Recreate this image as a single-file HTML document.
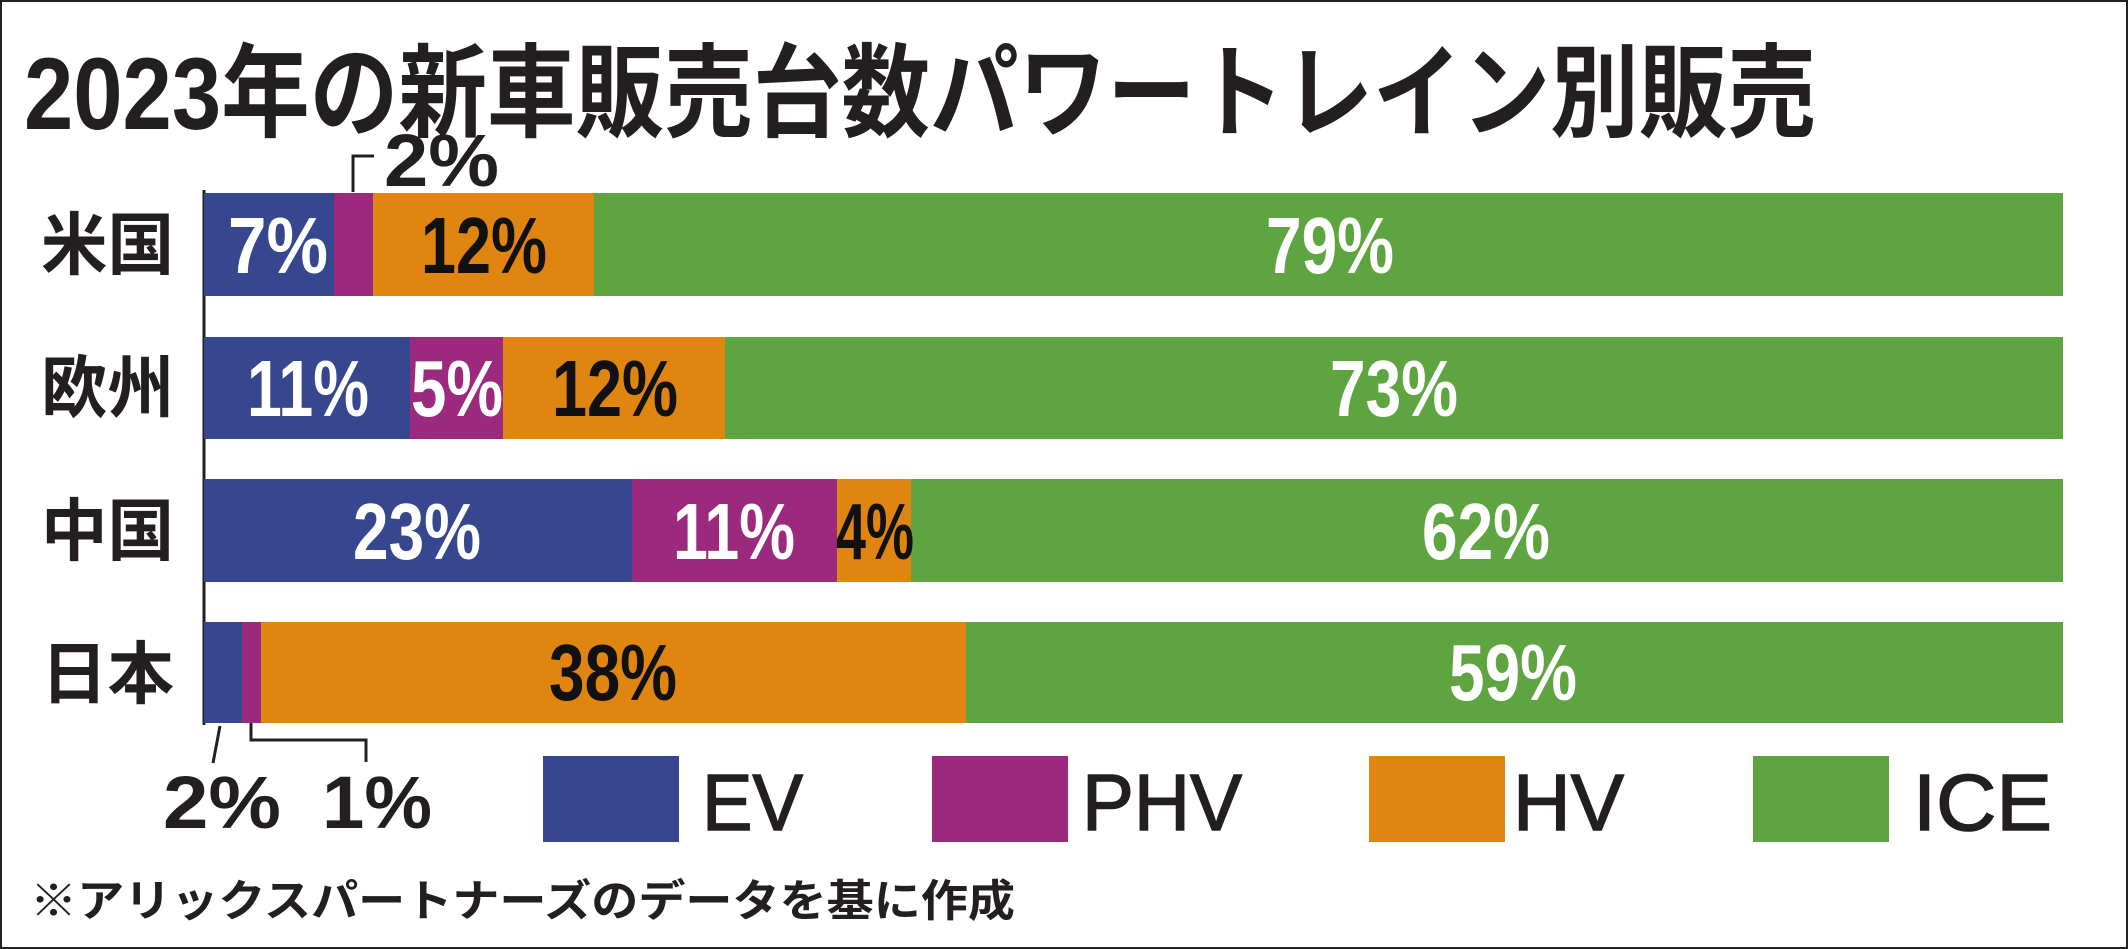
<!DOCTYPE html>
<html><head><meta charset="utf-8"><style>
html,body{margin:0;padding:0;background:#fff;}
svg{display:block;}
text{font-family:"Liberation Sans","Noto Sans CJK JP",sans-serif;}
</style></head><body>
<svg width="2128" height="949" viewBox="0 0 2128 949" xmlns="http://www.w3.org/2000/svg">
<rect x="1" y="1" width="2126" height="947" fill="#fff" stroke="#222" stroke-width="2"/>
<text x="24" y="129" font-size="102" font-weight="bold" fill="#231f20" textLength="1792" lengthAdjust="spacingAndGlyphs">2023年の新車販売台数パワートレイン別販売</text>
<line x1="204" y1="190" x2="204" y2="725" stroke="#231f20" stroke-width="3"/>
<g font-size="68" font-weight="bold" fill="#231f20">
<text x="41" y="269" textLength="133" lengthAdjust="spacingAndGlyphs">米国</text>
<text x="41" y="412" textLength="133" lengthAdjust="spacingAndGlyphs">欧州</text>
<text x="41" y="555" textLength="133" lengthAdjust="spacingAndGlyphs">中国</text>
<text x="41" y="698" textLength="133" lengthAdjust="spacingAndGlyphs">日本</text>
</g>
<rect x="204" y="193" width="130" height="103" fill="#36478f"/>
<rect x="334" y="193" width="39" height="103" fill="#9b2a7e"/>
<rect x="373" y="193" width="221" height="103" fill="#e0850f"/>
<rect x="594" y="193" width="1469" height="103" fill="#5ea541"/>
<rect x="204" y="337" width="206" height="102" fill="#36478f"/>
<rect x="410" y="337" width="93" height="102" fill="#9b2a7e"/>
<rect x="503" y="337" width="222" height="102" fill="#e0850f"/>
<rect x="725" y="337" width="1338" height="102" fill="#5ea541"/>
<rect x="204" y="479" width="428" height="103" fill="#36478f"/>
<rect x="632" y="479" width="205" height="103" fill="#9b2a7e"/>
<rect x="837" y="479" width="74" height="103" fill="#e0850f"/>
<rect x="911" y="479" width="1152" height="103" fill="#5ea541"/>
<rect x="204" y="622" width="38" height="101" fill="#36478f"/>
<rect x="242" y="622" width="19" height="101" fill="#9b2a7e"/>
<rect x="261" y="622" width="705" height="101" fill="#e0850f"/>
<rect x="966" y="622" width="1097" height="101" fill="#5ea541"/>
<g font-size="80" font-weight="bold" text-anchor="middle">
<text x="278" y="273" fill="#fff" textLength="100" lengthAdjust="spacingAndGlyphs">7%</text>
<text x="484" y="273" fill="#111" textLength="126" lengthAdjust="spacingAndGlyphs">12%</text>
<text x="1330" y="273" fill="#fff" textLength="128" lengthAdjust="spacingAndGlyphs">79%</text>
<text x="308" y="416" fill="#fff" textLength="122" lengthAdjust="spacingAndGlyphs">11%</text>
<text x="457" y="416" fill="#fff" textLength="92" lengthAdjust="spacingAndGlyphs">5%</text>
<text x="615" y="416" fill="#111" textLength="126" lengthAdjust="spacingAndGlyphs">12%</text>
<text x="1394" y="416" fill="#fff" textLength="128" lengthAdjust="spacingAndGlyphs">73%</text>
<text x="417" y="559" fill="#fff" textLength="128" lengthAdjust="spacingAndGlyphs">23%</text>
<text x="734" y="559" fill="#fff" textLength="122" lengthAdjust="spacingAndGlyphs">11%</text>
<text x="875" y="559" fill="#111" textLength="78" lengthAdjust="spacingAndGlyphs">4%</text>
<text x="1486" y="559" fill="#fff" textLength="128" lengthAdjust="spacingAndGlyphs">62%</text>
<text x="613" y="700" fill="#111" textLength="128" lengthAdjust="spacingAndGlyphs">38%</text>
<text x="1513" y="700" fill="#fff" textLength="128" lengthAdjust="spacingAndGlyphs">59%</text>
</g>
<g stroke="#231f20" stroke-width="3" fill="none">
<polyline points="353,192 353,156 374,156"/>
<line x1="220" y1="726" x2="213" y2="763"/>
<polyline points="251,723 251,740 366,740 366,762"/>
</g>
<g font-weight="bold" fill="#231f20">
<text x="384" y="186" font-size="74" textLength="115" lengthAdjust="spacingAndGlyphs">2%</text>
<text x="163" y="828" font-size="74" textLength="118" lengthAdjust="spacingAndGlyphs">2%</text>
<text x="322" y="828" font-size="74" textLength="110" lengthAdjust="spacingAndGlyphs">1%</text>
</g>
<rect x="543" y="756" width="136" height="86" fill="#36478f"/>
<rect x="932" y="756" width="136" height="86" fill="#9b2a7e"/>
<rect x="1369" y="756" width="136" height="86" fill="#e0850f"/>
<rect x="1753" y="756" width="136" height="86" fill="#5ea541"/>
<g font-size="80" fill="#231f20" stroke="#231f20" stroke-width="1.5">
<text x="702" y="830" textLength="101" lengthAdjust="spacingAndGlyphs">EV</text>
<text x="1082" y="830" textLength="160" lengthAdjust="spacingAndGlyphs">PHV</text>
<text x="1513" y="830" textLength="111" lengthAdjust="spacingAndGlyphs">HV</text>
<text x="1913" y="830" textLength="139" lengthAdjust="spacingAndGlyphs">ICE</text>
</g>
<text x="30" y="916" font-size="44" font-weight="bold" fill="#231f20" textLength="985" lengthAdjust="spacingAndGlyphs">※アリックスパートナーズのデータを基に作成</text>
</svg>
</body></html>
